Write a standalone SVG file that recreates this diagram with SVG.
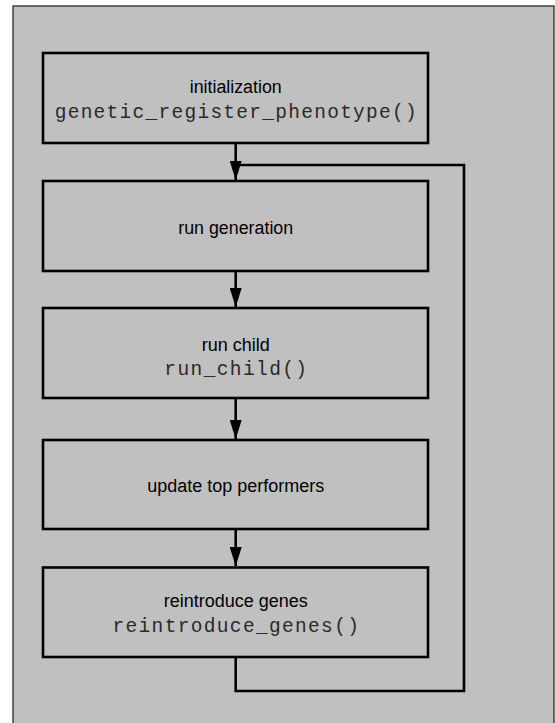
<svg xmlns="http://www.w3.org/2000/svg" width="555" height="723" viewBox="0 0 555 723">
  <defs>
    <style>
      .frame { fill: #c0c0c0; stroke: #1a1a1a; stroke-width: 1.2; }
      .box { fill: #c0c0c0; stroke: #000; stroke-width: 2.6; }
      .label { font-family: "Liberation Sans", Arial, sans-serif; font-size: 18px; fill: #000; text-anchor: middle; }
      .code { font-family: "Liberation Mono", "Courier New", monospace; font-size: 19.5px; fill: #2a2a2a; text-anchor: middle; }
      .edge { fill: none; stroke: #000; stroke-width: 2.6; }
    </style>
    <marker id="arrow" markerWidth="19" markerHeight="12" refX="19" refY="6" viewBox="0 0 19 12" markerUnits="userSpaceOnUse" orient="auto">
      <path d="M0,0 L19,6 L0,12 Z" fill="#000"/>
    </marker>
  </defs>

  <!-- page background -->
  <rect x="0" y="0" width="555" height="723" fill="#fff"/>
  <rect class="frame" x="13" y="6" width="541" height="730"/>

  <!-- connectors -->
  <g id="connectors">
    <line class="edge" x1="235.7" y1="143" x2="235.7" y2="180" marker-end="url(#arrow)"/>
    <line class="edge" x1="235.7" y1="271" x2="235.7" y2="307" marker-end="url(#arrow)"/>
    <line class="edge" x1="235.7" y1="398" x2="235.7" y2="439" marker-end="url(#arrow)"/>
    <line class="edge" x1="235.7" y1="529" x2="235.7" y2="566" marker-end="url(#arrow)"/>
    <polyline class="edge" points="235.7,657 235.7,691 464,691 464,165 235.7,165"/>
  </g>

  <g id="node-init">
    <rect class="box" x="43" y="53" width="385" height="90"/>
    <text class="label" x="235.7" y="93.3" textLength="92" lengthAdjust="spacingAndGlyphs">initialization</text>
    <text class="code" x="235.7" y="117.5" textLength="362" lengthAdjust="spacing">genetic_register_phenotype()</text>
  </g>

  <g id="node-generation">
    <rect class="box" x="43" y="181" width="385" height="90"/>
    <text class="label" x="235.7" y="234" textLength="115" lengthAdjust="spacingAndGlyphs">run generation</text>
  </g>

  <g id="node-child">
    <rect class="box" x="43" y="308" width="385" height="90"/>
    <text class="label" x="235.7" y="350.5">run child</text>
    <text class="code" x="235.7" y="374.5" textLength="142.7" lengthAdjust="spacing">run_child()</text>
  </g>

  <g id="node-top">
    <rect class="box" x="43" y="440" width="385" height="89"/>
    <text class="label" x="235.7" y="491.7">update top performers</text>
  </g>

  <g id="node-reintroduce">
    <rect class="box" x="43" y="567.5" width="385" height="89.5"/>
    <text class="label" x="235.7" y="607.3">reintroduce genes</text>
    <text class="code" x="235.7" y="632.3" textLength="246.4" lengthAdjust="spacing">reintroduce_genes()</text>
  </g>
</svg>
